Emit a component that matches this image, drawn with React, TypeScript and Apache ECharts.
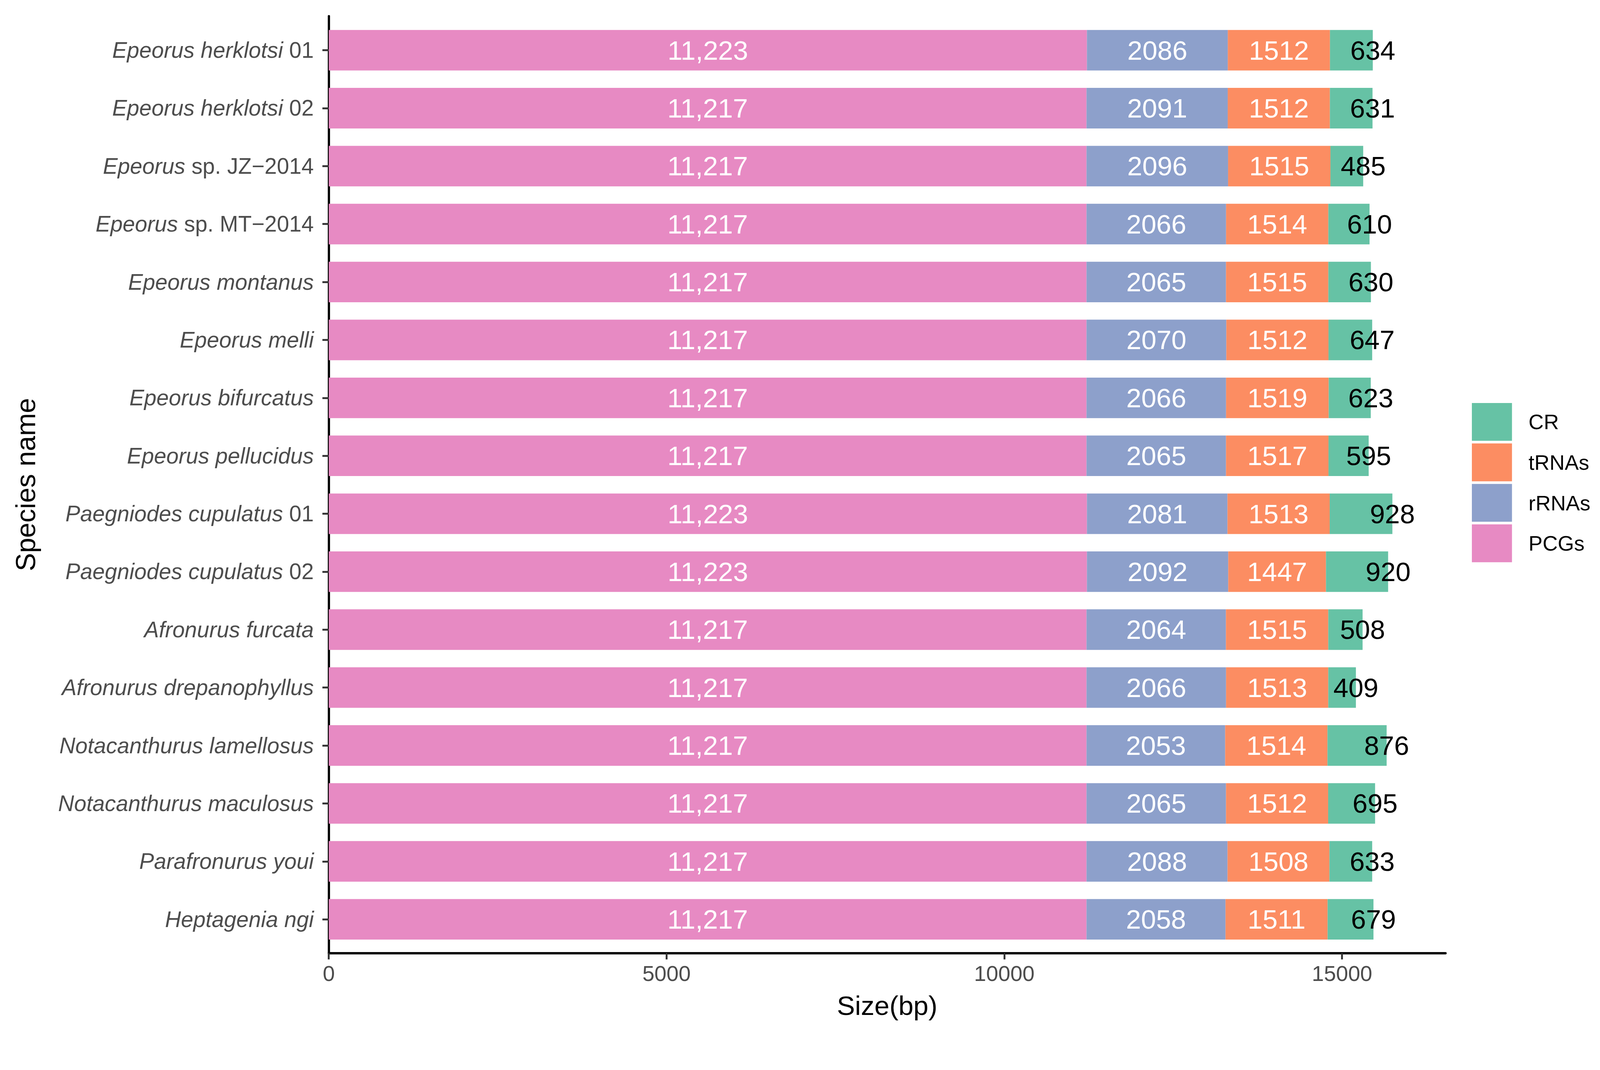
import React, { useEffect, useRef } from "react";
import * as echarts from "echarts";

const categories = [
  "Epeorus herklotsi 01",
  "Epeorus herklotsi 02",
  "Epeorus sp. JZ−2014",
  "Epeorus sp. MT−2014",
  "Epeorus montanus",
  "Epeorus melli",
  "Epeorus bifurcatus",
  "Epeorus pellucidus",
  "Paegniodes cupulatus 01",
  "Paegniodes cupulatus 02",
  "Afronurus furcata",
  "Afronurus drepanophyllus",
  "Notacanthurus lamellosus",
  "Notacanthurus maculosus",
  "Parafronurus youi",
  "Heptagenia ngi",
];

const italicParts = [
  "Epeorus herklotsi",
  "Epeorus herklotsi",
  "Epeorus",
  "Epeorus",
  "Epeorus montanus",
  "Epeorus melli",
  "Epeorus bifurcatus",
  "Epeorus pellucidus",
  "Paegniodes cupulatus",
  "Paegniodes cupulatus",
  "Afronurus furcata",
  "Afronurus drepanophyllus",
  "Notacanthurus lamellosus",
  "Notacanthurus maculosus",
  "Parafronurus youi",
  "Heptagenia ngi",
];

const pcgs = [11223, 11217, 11217, 11217, 11217, 11217, 11217, 11217, 11223, 11223, 11217, 11217, 11217, 11217, 11217, 11217];
const rrnas = [2086, 2091, 2096, 2066, 2065, 2070, 2066, 2065, 2081, 2092, 2064, 2066, 2053, 2065, 2088, 2058];
const trnas = [1512, 1512, 1515, 1514, 1515, 1512, 1519, 1517, 1513, 1447, 1515, 1513, 1514, 1512, 1508, 1511];
const cr = [634, 631, 485, 610, 630, 647, 623, 595, 928, 920, 508, 409, 876, 695, 633, 679];

const xTicks = [0, 5000, 10000, 15000];
const legendOrder = ["CR", "tRNAs", "rRNAs", "PCGs"];

const COLORS: Record<string, string> = {
  PCGs: "#E78AC3",
  rRNAs: "#8DA0CB",
  tRNAs: "#FC8D62",
  CR: "#66C2A5",
};

const FONT = "'Liberation Sans', Arial, Helvetica, sans-serif";
const XMAX = 16532;
const REF_W = 4268;
const REF_H = 2740;

export default function App() {
  const ref = useRef<HTMLDivElement>(null);

  useEffect(() => {
    const el = ref.current;
    if (!el) return;
    const w = el.clientWidth || REF_W;
    const h = el.clientHeight || REF_H;
    const s = Math.min(w / REF_W, h / REF_H);
    const k = (v: number) => v * s;

    const chart = echarts.init(el, null, { renderer: "svg", width: w, height: h });

    const gridLeft = 877;
    const gridWidth = 2979;
    const band = 154.6;
    const firstCenter = 134;

    const barLabel = (color: string, fmt?: (v: number) => string) => ({
      show: true,
      position: "inside" as const,
      color,
      fontSize: k(72),
      fontFamily: FONT,
      formatter: (p: any) => (fmt ? fmt(p.value) : String(p.value)),
    });

    const option: any = {
      animation: false,
      backgroundColor: "#ffffff",
      textStyle: { fontFamily: FONT },
      grid: [
        {
          left: k(gridLeft),
          width: k(gridWidth),
          top: k(firstCenter - band / 2),
          height: k(band * categories.length),
        },
        {
          left: k(gridLeft),
          width: k(gridWidth),
          top: k(43),
          height: k(2500),
        },
      ],
      xAxis: [
        {
          type: "value",
          gridIndex: 0,
          min: 0,
          max: XMAX,
          show: false,
        },
        {
          type: "value",
          gridIndex: 1,
          min: 0,
          max: XMAX,
          interval: 5000,
          axisLine: { show: true, lineStyle: { color: "#000", width: k(6) } },
          axisTick: { show: true, length: k(17), lineStyle: { color: "#333", width: k(5) } },
          axisLabel: {
            color: "#4D4D4D",
            fontSize: k(58),
            fontFamily: FONT,
            margin: k(26),
            formatter: (v: number) => (xTicks.includes(v) ? String(v) : ""),
            showMaxLabel: false,
          },
          splitLine: { show: false },
          name: "Size(bp)",
          nameLocation: "middle",
          nameGap: k(104),
          nameTextStyle: { color: "#000", fontSize: k(72), fontFamily: FONT },
        },
      ],
      yAxis: [
        {
          type: "category",
          gridIndex: 0,
          inverse: true,
          data: categories,
          axisLine: { show: false },
          axisTick: {
            show: true,
            alignWithLabel: true,
            length: k(17),
            lineStyle: { color: "#333", width: k(5) },
          },
          axisLabel: {
            margin: k(40),
            fontFamily: FONT,
            fontSize: k(59),
            color: "#4D4D4D",
            formatter: (v: string) => {
              const idx = categories.indexOf(v);
              const it = italicParts[idx] || v;
              const rest = v.slice(it.length);
              return rest ? `{i|${it}}{n|${rest}}` : `{i|${it}}`;
            },
            rich: {
              i: { fontStyle: "italic", fontSize: k(59), color: "#4D4D4D", fontFamily: FONT },
              n: { fontStyle: "normal", fontSize: k(59), color: "#4D4D4D", fontFamily: FONT },
            },
          },
          splitLine: { show: false },
        },
        {
          type: "value",
          gridIndex: 1,
          min: 0,
          max: 1,
          axisLine: { show: true, lineStyle: { color: "#000", width: k(6) } },
          axisTick: { show: false },
          axisLabel: { show: false },
          splitLine: { show: false },
          name: "Species name",
          nameLocation: "middle",
          nameGap: k(772),
          nameRotate: 90,
          nameTextStyle: { color: "#000", fontSize: k(73), fontFamily: FONT },
        },
      ],
      legend: {
        orient: "vertical",
        left: k(3921),
        top: k(1070),
        itemWidth: k(107),
        itemHeight: k(101),
        itemGap: k(7),
        icon: "rect",
        data: legendOrder,
        textStyle: {
          color: "#000",
          fontSize: k(56),
          fontFamily: FONT,
          padding: [0, 0, 0, k(39)],
        },
        selectedMode: false,
      },
      series: [
        {
          name: "PCGs",
          type: "bar",
          stack: "total",
          xAxisIndex: 0,
          yAxisIndex: 0,
          barWidth: "70%",
          data: pcgs,
          itemStyle: { color: COLORS.PCGs },
          label: barLabel("#ffffff", (v) => v.toLocaleString("en-US")),
        },
        {
          name: "rRNAs",
          type: "bar",
          stack: "total",
          xAxisIndex: 0,
          yAxisIndex: 0,
          barWidth: "70%",
          data: rrnas,
          itemStyle: { color: COLORS.rRNAs },
          label: barLabel("#ffffff"),
        },
        {
          name: "tRNAs",
          type: "bar",
          stack: "total",
          xAxisIndex: 0,
          yAxisIndex: 0,
          barWidth: "70%",
          data: trnas,
          itemStyle: { color: COLORS.tRNAs },
          label: barLabel("#ffffff"),
        },
        {
          name: "CR",
          type: "bar",
          stack: "total",
          xAxisIndex: 0,
          yAxisIndex: 0,
          barWidth: "70%",
          data: cr,
          itemStyle: { color: COLORS.CR },
          label: {
            show: true,
            position: ["100%", "50%"],
            align: "center",
            verticalAlign: "middle",
            color: "#000",
            fontSize: k(72),
            fontFamily: FONT,
          },
        },
      ],
    };

    chart.setOption(option);
    return () => chart.dispose();
  }, []);

  return (
    <div
      ref={ref}
      style={{ position: "fixed", left: 0, top: 0, width: "100vw", height: "100vh", background: "#fff" }}
    />
  );
}
